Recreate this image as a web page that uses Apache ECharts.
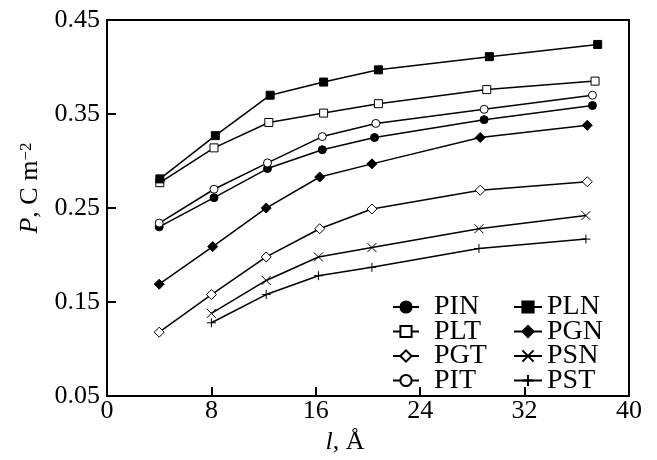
<!DOCTYPE html>
<html>
<head>
<meta charset="utf-8">
<script src="https://cdn.jsdelivr.net/npm/echarts@6/dist/echarts.min.js"></script>
<style>
  html, body { margin: 0; padding: 0; background: #fff; }
  #chart { width: 657px; height: 460px; }
</style>
</head>
<body>
<div id="chart"></div>
<script>
// values
const xPLN = [4.05, 8.3, 12.5, 16.6, 20.8, 29.3, 37.6];
const yPLN = [0.281, 0.327, 0.370, 0.384, 0.397, 0.411, 0.424];
const xPLT = [4.05, 8.2, 12.4, 16.6, 20.8, 29.1, 37.4];
const yPLT = [0.277, 0.314, 0.341, 0.351, 0.361, 0.376, 0.385];
const xPIT = [4, 8.2, 12.3, 16.5, 20.6, 28.9, 37.2];
const yPIT = [0.234, 0.270, 0.298, 0.326, 0.340, 0.355, 0.370];
const xPIN = [4, 8.2, 12.3, 16.5, 20.5, 28.9, 37.2];
const yPIN = [0.230, 0.261, 0.292, 0.312, 0.325, 0.344, 0.359];
const xPGN = [4, 8.1, 12.2, 16.3, 20.3, 28.6, 36.8];
const yPGN = [0.169, 0.209, 0.250, 0.283, 0.297, 0.325, 0.338];
const xPGT = [4, 8, 12.2, 16.3, 20.3, 28.6, 36.8];
const yPGT = [0.118, 0.158, 0.198, 0.228, 0.249, 0.269, 0.278];
const xPSN = [8, 12.2, 16.2, 20.3, 28.5, 36.7];
const yPSN = [0.138, 0.173, 0.198, 0.208, 0.228, 0.242];
const xPST = [8, 12.2, 16.2, 20.3, 28.5, 36.7];
const yPST = [0.128, 0.158, 0.178, 0.187, 0.207, 0.217];

const font = 'Liberation Serif';

const zip = (xs, ys) => xs.map((x, i) => [x, ys[i]]);

function line(name, xs, ys, symbol, fill, size) {
  return {
    name: name,
    type: 'line',
    data: zip(xs, ys),
    symbol: symbol,
    symbolSize: size || 8,
    showAllSymbol: true,
    lineStyle: { color: '#000', width: 1.5 },
    itemStyle: { color: fill, borderColor: '#000', borderWidth: 1 },
    emphasis: { disabled: true },
    z: 3
  };
}

const crossPath = 'path://M0,0L10,10M0,10L10,0';
const plusPath = 'path://M5,0L5,10M0,5L10,5';

let chart = echarts.init(document.getElementById('chart'));
chart.setOption({
  animation: false,
  backgroundColor: '#fff',
  grid: {
    left: 107, right: 28, top: 20, bottom: 59,
    show: true, borderColor: '#000', borderWidth: 2
  },
  legend: [
    {
      data: ['PIN', 'PLT', 'PGT', 'PIT'],
      orient: 'vertical',
      left: 392, top: 293, padding: 0,
      itemWidth: 26, itemHeight: 14, itemGap: -3.5,
      textStyle: { fontFamily: font, fontSize: 28, color: '#000', padding: [0, 0, 0, 10] }
    },
    {
      data: ['PLN', 'PGN', 'PSN', 'PST'],
      orient: 'vertical',
      left: 513, top: 293, padding: 0,
      itemWidth: 28, itemHeight: 14, itemGap: -3.5,
      textStyle: { fontFamily: font, fontSize: 28, color: '#000' }
    }
  ],
  xAxis: {
    type: 'value',
    min: 0, max: 40, interval: 8,
    name: '{i|l}, Å',
    nameLocation: 'middle',
    nameGap: 28,
    nameTextStyle: {
      fontFamily: font, fontSize: 26, color: '#000', padding: [0, 46, 0, 0],
      rich: { i: { fontFamily: font, fontSize: 26, fontStyle: 'italic' } }
    },
    axisLine: { lineStyle: { color: '#000', width: 2 } },
    axisTick: { inside: true, length: 9, lineStyle: { color: '#000', width: 2 } },
    axisLabel: { fontFamily: font, fontSize: 26, color: '#000', margin: 2 },
    splitLine: { show: false }
  },
  yAxis: {
    type: 'value',
    min: 0.05, max: 0.45, interval: 0.1,
    name: '{i|P}, C m{s|−2}',
    nameLocation: 'middle',
    nameGap: 53,
    nameTextStyle: {
      fontFamily: font, fontSize: 26, color: '#000', padding: [0, 0, 0, 40],
      rich: {
        i: { fontFamily: font, fontSize: 26, fontStyle: 'italic' },
        s: { fontFamily: font, fontSize: 17, verticalAlign: 'top' }
      }
    },
    axisLine: { lineStyle: { color: '#000', width: 2 } },
    axisTick: { inside: true, length: 9, lineStyle: { color: '#000', width: 2 } },
    axisLabel: {
      fontFamily: font, fontSize: 26, color: '#000', margin: 7,
      formatter: v => v.toFixed(2)
    },
    splitLine: { show: false }
  },
  series: [
    line('PIN', xPIN, yPIN, 'circle', '#000', 8),
    line('PLT', xPLT, yPLT, 'rect', '#fff', 8),
    line('PGT', xPGT, yPGT, 'diamond', '#fff', 10),
    line('PIT', xPIT, yPIT, 'circle', '#fff', 8),
    line('PLN', xPLN, yPLN, 'rect', '#000', 8),
    line('PGN', xPGN, yPGN, 'diamond', '#000', 10),
    line('PSN', xPSN, yPSN, crossPath, 'none', 9),
    line('PST', xPST, yPST, plusPath, 'none', 9)
  ]
});
window.onresize = chart.resize;
</script>
</body>
</html>
